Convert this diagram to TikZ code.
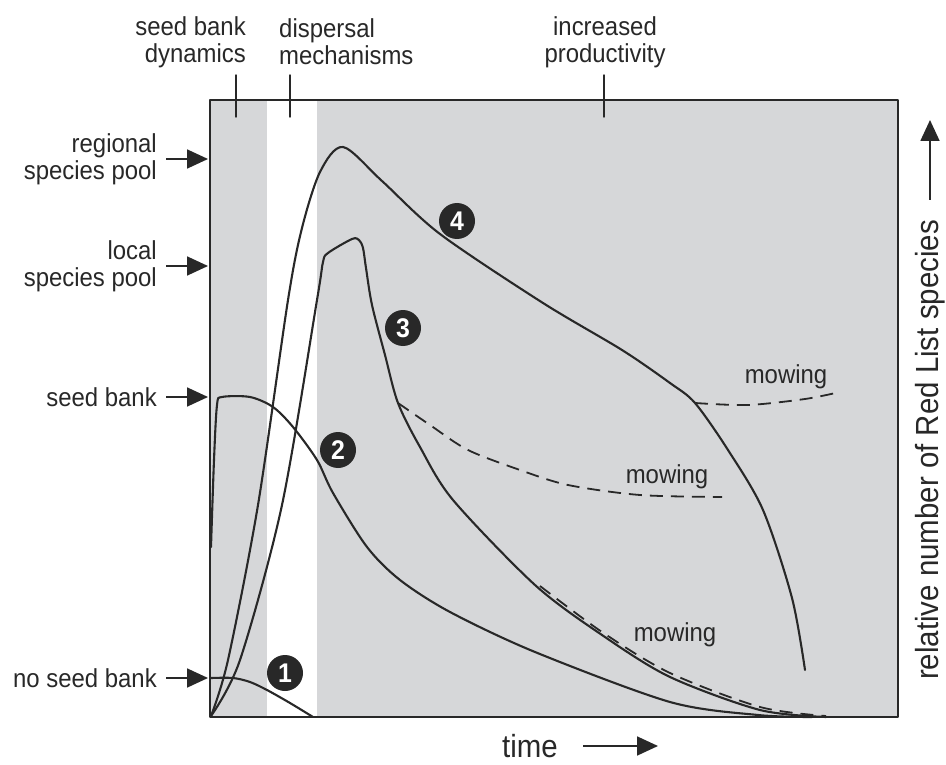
\documentclass[tikz,border=0pt]{standalone}
\usepackage{fontspec}
\setmainfont[FakeStretch=0.92]{Liberation Sans}
\usetikzlibrary{arrows.meta}
\definecolor{bandgrey}{RGB}{214,215,217}
\definecolor{ink}{RGB}{40,40,40}
\begin{document}
\begin{tikzpicture}[x=1pt,y=-1pt,font=\fontsize{26}{27}\selectfont,line join=round,line cap=round,
	lbl/.style={inner sep=0pt,text=ink},
	curve/.style={ink,line width=2.1pt,smooth,tension=0.5},
	mow/.style={ink,line width=1.8pt,line cap=butt,dash pattern=on 13pt off 8pt,smooth},
	pointer/.style={ink,line width=1.8pt,line cap=butt,-{Triangle[length=21pt,width=19pt]}},
	numdot/.style={circle,fill=ink,text=white,inner sep=0pt,minimum size=36pt,font=\fontsize{27}{27}\selectfont\bfseries},
	axislabel/.style={lbl,font=\fontsize{32}{34}\selectfont}]
			\useasboundingbox (0,0) rectangle (946,765);
			% grey bands and white gap
			\fill[bandgrey] (210,100) rectangle (267,717);
			\fill[bandgrey] (317,100) rectangle (898,717);
			\coordinate (boxW) at (208,0);
			\coordinate (yTip) at (929,120);
			\coordinate (xTip) at (658,0);
			% mowing branches
			\draw[mow] plot coordinates {(398,403) (430,425) (468,450) (520,470) (568,485) (640,495) (722,497)};
			\draw[mow] plot coordinates {(695,403) (748,405) (805,399) (840,392)};
			\draw[mow] plot coordinates {(540,586) (602,632) (670,673) (760,707) (826,716)};
			% curves
			\draw[curve] plot coordinates {(211,678) (233,678) (250,682) (267,690) (290,703) (313,717)};
			\draw[curve] plot coordinates {(211,547) (214,460) (217,405) (222,397) (250,397) (273,407) (293,427) (317,460) (333,493) (367,547) (400,580) (450,612) (535,652) (670,702) (758,715) (812,717)};
			\draw[curve] plot coordinates {(211,716) (240,660) (282,505) (317,300) (323,262) (328,253) (352,239) (359,240) (363,248) (366,268) (372,305) (385,355) (398,403) (420,447) (453,500) (535,585) (602,635) (670,677) (760,710) (826,717)};
			\draw[curve] plot coordinates {(211,716) (228,660) (258,505) (288,300) (302,228) (320,172) (343,147) (382,181) (440,234) (543,303) (622,350) (670,383) (695,403) (728,450) (763,510) (792,598) (805,670)};
			\draw[ink,line width=1.6pt] (210,100) rectangle (898,717);
			% ticks on top edge
			\draw[ink,line width=1.4pt] (236,75)--(236,117) (290,75)--(290,117) (604,75)--(604,117);
			\node[lbl,align=right,anchor=east] (sbdyn) at (246,42) {seed bank\\dynamics};
			\node[lbl,align=left,anchor=west] (disp) at (279,42) {dispersal\\mechanisms};
			\node[lbl,align=center] (prod) at (605,42) {increased\\productivity};
			% pools on the left
			\node[lbl,align=right,anchor=east] (regional) at (157,159) {regional\\species pool};
			\node[lbl,align=right,anchor=east] (local) at (157,266) {local\\species pool};
			\node[lbl,anchor=east] (seedbank) at (157,397) {seed bank};
			\node[lbl,anchor=east] (noseed) at (157,678) {no seed bank};
			\foreach \n in {regional,local,seedbank,noseed}
				\draw[pointer] ([xshift=9pt]\n.east) -- (\n.east -| boxW);
			% numbered curves
			\node[numdot] (c1) at (285,673) {1};
			\node[numdot] (c2) at (338,450) {2};
			\node[numdot] (c3) at (403,328) {3};
			\node[numdot] (c4) at (457,221) {4};
			\node[lbl] (mowA) at (786,377) {mowing};
			\node[lbl] (mowB) at (667,477) {mowing};
			\node[lbl] (mowC) at (675,635) {mowing};
			% axes
			\node[axislabel,anchor=west] (tlab) at (502,746) {time};
			\draw[pointer] ([xshift=25pt]tlab.east) -- (tlab.east -| xTip);
			\node[axislabel,rotate=90] (ylab) at (930,450) {relative number of Red List species};
			\draw[pointer] ([yshift=20pt]ylab.east) -- (ylab.east |- yTip);
	\end{tikzpicture}
\end{document}
